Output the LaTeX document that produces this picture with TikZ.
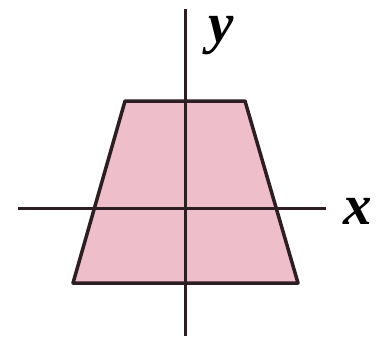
\documentclass[tikz,border=0pt]{standalone}
\usepackage{fontspec}
\setmainfont{Liberation Serif}
\definecolor{trapfill}{RGB}{238,190,202}
\definecolor{edge}{RGB}{45,30,35}
\tikzset{axisline/.style={draw=edge,line width=3pt},
  lab/.style={font=\fontsize{57}{60}\selectfont\bfseries\itshape,inner sep=0pt,text=black}}
\begin{document}
\begin{tikzpicture}[x=1pt,y=-1pt]
\useasboundingbox (0,0) rectangle (383,340);
\fill[trapfill] (125,101) -- (245,101) -- (298,283) -- (73,283) -- cycle;
\draw[edge,line width=3.5pt,line join=round] (125,101) -- (245,101) -- (298,283) -- (73,283) -- cycle;
\coordinate (xl) at (18,208);
\coordinate (xr) at (326,208);
\coordinate (yt) at (185,9);
\coordinate (yb) at (185,336);
\draw[axisline] (xl) -- (xr);
\draw[axisline] (yt) -- (yb);
\node[lab,anchor=base] (ylab) at (221,42) {y};
\node[lab,anchor=base] (xlab) at (358,224) {x};
\end{tikzpicture}
\end{document}
